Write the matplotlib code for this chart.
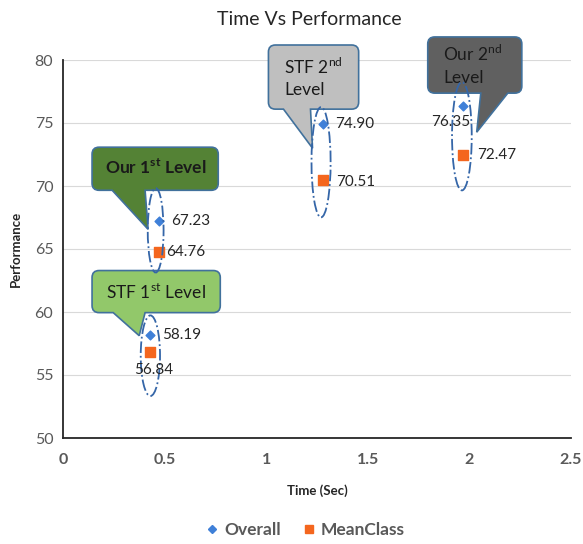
import matplotlib
matplotlib.use("Agg")
import matplotlib.pyplot as plt
from matplotlib.path import Path
from matplotlib.patches import PathPatch, Ellipse
from matplotlib.lines import Line2D

plt.rcParams['font.family'] = ['Lato', 'DejaVu Sans']
plt.rcParams['mathtext.fontset'] = 'custom'
plt.rcParams['mathtext.rm'] = 'Lato'
plt.rcParams['mathtext.bf'] = 'Lato:bold'

# data
time_sec = [0.43, 0.47, 1.28, 1.97]
overall = [58.19, 67.23, 74.90, 76.35]
mean_class = [56.84, 64.76, 70.51, 72.47]
methods = ["STF 1st", "Our 1st", "STF 2nd", "Our 2nd"]
x_ticks = [0, 0.5, 1, 1.5, 2, 2.5]
y_ticks = [50, 55, 60, 65, 70, 75, 80]

BLUE = '#3F80D8'
ORANGE = '#F4661E'
GRAY_TXT = '#595959'

fig = plt.figure(figsize=(5.83, 5.44), dpi=100)
ax = fig.add_axes([63 / 583, 1 - 438 / 544, (571 - 63) / 583, (438 - 60) / 544])
ax.set_xlim(0, 2.5)
ax.set_ylim(50, 80)
ax.set_xticks(x_ticks)
ax.set_xticklabels(['0', '0.5', '1', '1.5', '2', '2.5'], fontweight='bold')
ax.set_yticks(y_ticks)
ax.tick_params(length=0, labelsize=11.5, colors=GRAY_TXT)
ax.tick_params(axis='x', pad=11)
ax.tick_params(axis='y', pad=7)
ax.grid(axis='y', color='#D9D9D9', linewidth=0.8)
ax.set_axisbelow(True)
for s in ['top', 'right']:
    ax.spines[s].set_visible(False)
for s in ['left', 'bottom']:
    ax.spines[s].set_color('#262626')
    ax.spines[s].set_linewidth(1.3)

ax.set_xlabel('Time (Sec)', fontsize=9.5, fontweight='bold', color='#262626', labelpad=12)
ax.set_ylabel('Performance', fontsize=9.5, fontweight='bold', color='#262626', labelpad=9)
fig.text(0.53, 0.965, 'Time Vs Performance', ha='center', va='center',
         fontsize=14, color='#262626')

ax.scatter(time_sec, overall, marker='D', s=20, color=BLUE, zorder=5)
ax.scatter(time_sec, mean_class, marker='s', s=42, color=ORANGE, zorder=5)

# data labels (offsets in pixels)
ov_off = [(12, 0, 'left'), (13, 0, 'left'), (12, 0, 'left'), (-13, -16, 'center')]
mc_off = [(3, -18, 'center'), (8, 0, 'left'), (13, -2, 'left'), (14, 0, 'left')]
for x, y, (dx, dy, ha) in zip(time_sec, overall, ov_off):
    ax.annotate(f'{y:.2f}', (x, y), xytext=(dx, dy), textcoords='offset pixels',
                ha=ha, va='center', fontsize=11, color='#262626', zorder=7)
for x, y, (dx, dy, ha) in zip(time_sec, mean_class, mc_off):
    ax.annotate(f'{y:.2f}', (x, y), xytext=(dx, dy), textcoords='offset pixels',
                ha=ha, va='center', fontsize=11, color='#262626', zorder=7)

# dash-dot ellipses around each pair
ell = [(0.43, 56.53, 0.095, 6.4), (0.456, 66.48, 0.078, 6.7),
       (1.27, 71.89, 0.094, 8.75), (1.963, 73.95, 0.097, 8.6)]
for cx, cy, w, h in ell:
    ax.add_patch(Ellipse((cx, cy), w, h, fill=False, edgecolor='#3566A8',
                         linestyle='-.', linewidth=1.3, zorder=6))


def callout(box, base, tip, color, r=7):
    # box = (x0, y0, x1, y1) in data, base = (xb0, xb1) on bottom edge, tip = (x, y)
    L, B = ax.transData.transform((box[0], box[1]))
    R, T = ax.transData.transform((box[2], box[3]))
    xb0 = ax.transData.transform((base[0], box[1]))[0]
    xb1 = ax.transData.transform((base[1], box[1]))[0]
    xt, yt = ax.transData.transform(tip)
    verts = [(L + r, B), (xb0, B), (xt, yt), (xb1, B), (R - r, B),
             (R, B), (R, B + r), (R, T - r), (R, T), (R - r, T),
             (L + r, T), (L, T), (L, T - r), (L, B + r), (L, B), (L + r, B), (L + r, B)]
    codes = [Path.MOVETO, Path.LINETO, Path.LINETO, Path.LINETO, Path.LINETO,
             Path.CURVE3, Path.CURVE3, Path.LINETO, Path.CURVE3, Path.CURVE3,
             Path.LINETO, Path.CURVE3, Path.CURVE3, Path.LINETO, Path.CURVE3, Path.CURVE3,
             Path.CLOSEPOLY]
    verts = fig.transFigure.inverted().transform(verts)
    p = PathPatch(Path(verts, codes), facecolor=color, edgecolor='#41719C',
                  linewidth=1.2, transform=fig.transFigure, zorder=4, clip_on=False)
    ax.add_patch(p)


callout((0.143, 69.66, 0.764, 73.08), (0.242, 0.404), (0.419, 66.56), '#548235')
callout((0.143, 59.95, 0.774, 63.29), (0.247, 0.404), (0.375, 58.12), '#92C86A')
callout((1.011, 76.10, 1.455, 81.19), (1.085, 1.218), (1.228, 73.0), '#BFBFBF')
callout((1.795, 77.37, 2.258, 81.83), (2.056, 2.189), (2.036, 74.27), '#606060')

ax.text(0.455, 71.45, r'Our 1$^{\mathbf{st}}$ Level', ha='center', va='center',
        fontsize=12.5, fontweight='bold', color='#1A1A1A', zorder=5, clip_on=False)
ax.text(0.458, 61.6, r'STF 1$^{\mathrm{st}}$ Level', ha='center', va='center',
        fontsize=12.5, color='#1A1A1A', zorder=5, clip_on=False)
ax.text(1.09, 78.6, r'STF 2$^{\mathrm{nd}}$' + '\nLevel', ha='left', va='center',
        fontsize=12.5, color='#1A1A1A', zorder=5, clip_on=False, linespacing=1.4)
ax.text(1.87, 79.6, r'Our 2$^{\mathrm{nd}}$' + '\nLevel', ha='left', va='center',
        fontsize=12.5, color='#1A1A1A', zorder=5, clip_on=False, linespacing=1.4)

handles = [Line2D([], [], marker='D', color=BLUE, linestyle='none', markersize=4.5),
           Line2D([], [], marker='s', color=ORANGE, linestyle='none', markersize=6)]
leg = fig.legend(handles, ['Overall', 'MeanClass'], loc='center', bbox_to_anchor=(0.52, 1 - 530 / 544),
                 ncol=2, frameon=False, handletextpad=0.1, columnspacing=1.0, handlelength=1.2,
                 prop={'weight': 'bold', 'size': 12.5})
for t in leg.get_texts():
    t.set_color(GRAY_TXT)

fig.savefig('out.png', dpi=100)
